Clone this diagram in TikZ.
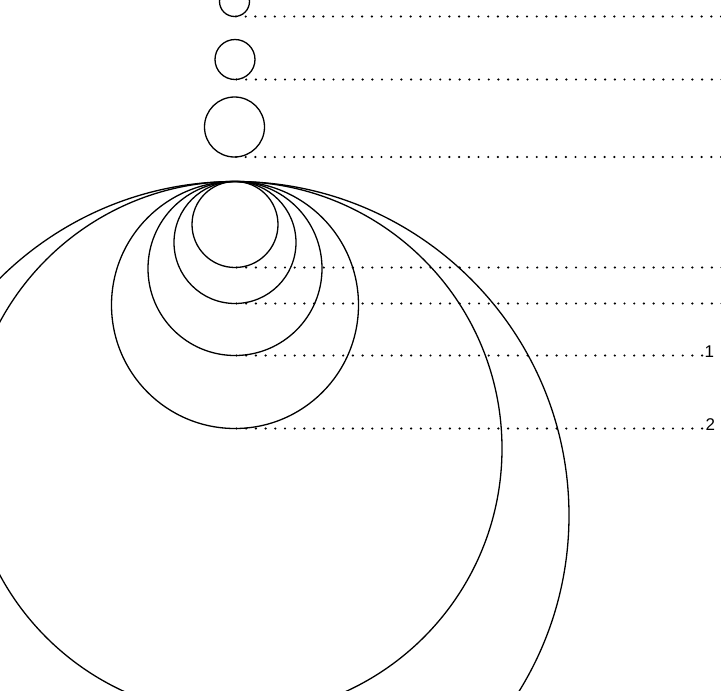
\documentclass[tikz,border=0pt]{standalone}
\usepackage{fontspec}
\setmainfont{Liberation Sans}
\begin{document}
\begin{tikzpicture}[x=1pt,y=-1pt,
  ring/.style={circle, draw, line width=1.3pt, inner sep=0pt, outer sep=0pt, minimum size=#1},
  dots/.style={line width=2.4pt, line cap=round, dash pattern=on 0pt off 9.7pt},
  lbl/.style={font=\fontsize{17}{19}\selectfont, inner sep=0pt, anchor=base west}]
\useasboundingbox (0,0) rectangle (721,691);
\clip (0,0) rectangle (721,691);
% reference ends of the dotted lines
\coordinate (edge) at (722,0);
\coordinate (stop) at (702.4,0);
% small separate circles
\node[ring=30pt] (s1) at (234.5,1.5) {};
\node[ring=40pt] (s2) at (235,59.5) {};
\node[ring=60pt] (s3) at (234.5,127) {};
% nested circles, all touching at the top
\node[ring=86pt]  (c1) at (235,224.5) {};
\node[ring=122pt] (c2) at (235,242.5) {};
\node[ring=174pt] (c3) at (235,268.5) {};
\node[ring=247pt] (c4) at (235,305) {};
\node[ring=534pt] (c5) at (235,448.5) {};
\node[ring=668pt] (c6) at (235,515.5) {};
% dotted lines
\draw[dots] ([xshift=1.5pt]s1.south) -- (s1.south -| edge);
\draw[dots] ([xshift=1.5pt]s2.south) -- (s2.south -| edge);
\draw[dots] ([xshift=1.5pt]s3.south) -- (s3.south -| edge);
\draw[dots] ([xshift=1.5pt]c1.south) -- (c1.south -| edge);
\draw[dots] ([xshift=1.5pt]c2.south) -- (c2.south -| edge);
\draw[dots] ([xshift=1.5pt]c3.south) -- (c3.south -| stop);
\draw[dots] ([xshift=1.5pt]c4.south) -- (c4.south -| stop);
% labels
\node[lbl] (n1) at (704.5,357) {1};
\node[lbl] (n2) at (705.5,430) {2};
\end{tikzpicture}
\end{document}
